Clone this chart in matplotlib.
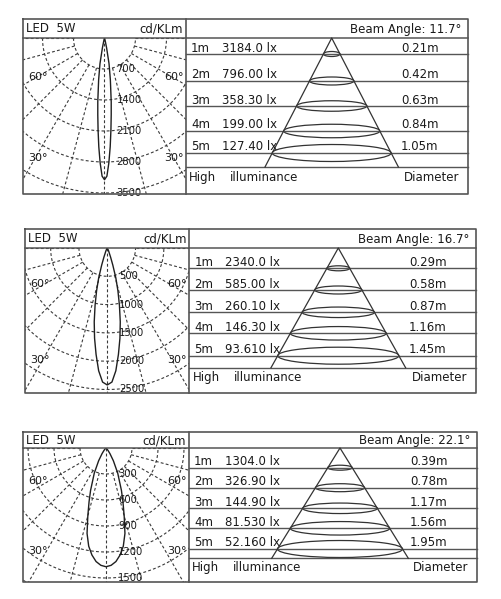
import numpy as np
import matplotlib
matplotlib.use("Agg")
import matplotlib.pyplot as plt
from matplotlib.patches import Ellipse

W, H = 502, 599

# ---------------- data ----------------
distances = [1, 2, 3, 4, 5]
beam_angles = [11.7, 16.7, 22.1]
lux_p1 = [3184.0, 796.00, 358.30, 199.00, 127.40]
lux_p2 = [2340.0, 585.00, 260.10, 146.30, 93.610]
lux_p3 = [1304.0, 326.90, 144.90, 81.530, 52.160]
diam_p1 = [0.21, 0.42, 0.63, 0.84, 1.05]
diam_p2 = [0.29, 0.58, 0.87, 1.16, 1.45]
diam_p3 = [0.39, 0.78, 1.17, 1.56, 1.95]
ring_ticks_p1 = [700, 1400, 2100, 2800, 3500]
ring_ticks_p2 = [500, 1000, 1500, 2000, 2500]
ring_ticks_p3 = [300, 600, 900, 1200, 1500]
curve_angles_p1 = [0, 1, 2, 3, 4, 5, 6, 7, 8, 10, 12, 14, 16, 20]
curve_cd_p1 = [3200, 3120, 2820, 2460, 2080, 1740, 1450, 1150, 950, 590, 230, 70, 20, 0]
curve_angles_p2 = [0, 2, 4, 6, 8, 10, 12, 14, 16, 18, 20, 25, 30, 40]
curve_cd_p2 = [2420, 2370, 2175, 1890, 1610, 1325, 1035, 780, 550, 320, 175, 55, 18, 0]
curve_angles_p3 = [0, 2.5, 5, 7.5, 10, 12.5, 15, 17.5, 20, 25, 30, 35, 40, 50, 60]
curve_cd_p3 = [1370, 1355, 1315, 1245, 1150, 1010, 810, 650, 520, 320, 170, 80, 35, 6, 0]
lamp_label = "LED  5W"
unit_label = "cd/KLm"

# ---------------- layout (pixels) ----------------
panels = [
    dict(x0=23, xd=186, x1=468, top=19, hdr=38, bot=194,
         rows=[54, 81, 106, 131, 153, 167], tcx=331.7, thw=66.7,
         ppu=31 / 700, lux=lux_p1, diam=diam_p1, rings=ring_ticks_p1,
         ang=curve_angles_p1, cd=curve_cd_p1, beam=beam_angles[0]),
    dict(x0=25, xd=189.5, x1=476, top=229, hdr=248, bot=393,
         rows=[268.3, 290, 312.3, 333.3, 355.7, 367.7], tcx=338.3, thw=67.3,
         ppu=28.3 / 500, lux=lux_p2, diam=diam_p2, rings=ring_ticks_p2,
         ang=curve_angles_p2, cd=curve_cd_p2, beam=beam_angles[1]),
    dict(x0=23, xd=189, x1=477, top=432, hdr=448, bot=582,
         rows=[467.7, 487.7, 508.3, 528.3, 549, 558.3], tcx=340, thw=68.3,
         ppu=26 / 300, lux=lux_p3, diam=diam_p3, rings=ring_ticks_p3,
         ang=curve_angles_p3, cd=curve_cd_p3, beam=beam_angles[2]),
]
ell_heights = [5, 8, 10.5, 13.5, 17]

TXT = "#1a1a1a"
LN = "#3a3a3a"
FONT = "DejaVu Sans"

fig = plt.figure(figsize=(W / 100, H / 100), dpi=100)
fig.patch.set_facecolor("white")


def fmt_lux(v):
    return np.format_float_positional(v, precision=5, unique=False,
                                      fractional=False, trim="k") + " lx"


for p in panels:
    # ---------- polar diagram (cartesian axes in cd units) ----------
    wpx = p["xd"] - p["x0"]
    hpx = p["bot"] - p["hdr"]
    pax = fig.add_axes([p["x0"] / W, 1 - p["bot"] / H, wpx / W, hpx / H])
    s = p["ppu"]
    pax.set_xlim(-wpx / 2 / s, wpx / 2 / s)
    pax.set_ylim(-hpx / s, 0)
    pax.axis("off")
    dash = (0, (2.6, 2.0))
    step = p["rings"][0]
    t = np.linspace(-np.pi / 2, np.pi / 2, 400)
    for k in range(1, 7):
        r = step * k
        pax.plot(r * np.sin(t), -r * np.cos(t), color=LN, lw=0.8, ls=dash)
    rmax = step * 8
    for a in range(-90, 91, 15):
        ar = np.radians(a)
        r0 = 0 if a == 0 else step
        pax.plot([r0 * np.sin(ar), rmax * np.sin(ar)],
                 [-r0 * np.cos(ar), -rmax * np.cos(ar)],
                 color=LN, lw=0.8, ls=dash)
    ang = np.radians(np.array(p["ang"], dtype=float))
    cd = np.array(p["cd"], dtype=float)
    full_a = np.concatenate([-ang[::-1], ang[1:]])
    full_r = np.concatenate([cd[::-1], cd[1:]])
    pax.plot(full_r * np.sin(full_a), -full_r * np.cos(full_a),
             color="#1f1f1f", lw=1.0, zorder=5)
    for v in p["rings"]:
        pax.text(12 / s, -v, str(v), fontsize=7.2, color=TXT, family=FONT,
                 ha="left", va="center", zorder=6)
    for fy, lab in [(0.25, "60°"), (0.77, "30°")]:
        pax.text(0.03, 1 - fy, lab, transform=pax.transAxes, fontsize=8,
                 color=TXT, family=FONT, ha="left", va="center")
        pax.text(0.985, 1 - fy, lab, transform=pax.transAxes, fontsize=8,
                 color=TXT, family=FONT, ha="right", va="center")

ov = fig.add_axes([0, 0, 1, 1])
ov.set_xlim(0, W)
ov.set_ylim(H, 0)
ov.axis("off")

for p in panels:
    x0, xd, x1, top, hdr, bot = p["x0"], p["xd"], p["x1"], p["top"], p["hdr"], p["bot"]
    rows = p["rows"]
    # frame
    ov.plot([x0, x1, x1, x0, x0], [top, top, bot, bot, top], color="#555555", lw=1.2)
    ov.plot([xd, xd], [top, bot], color="#555555", lw=1.2)
    ov.plot([x0, x1], [hdr, hdr], color="#555555", lw=1.1)
    for y in rows:
        ov.plot([xd, x1], [y, y], color="#555555", lw=1.0)
    # header text
    hy = (top + hdr) / 2 + 0.5
    ov.text(x0 + 3, hy, lamp_label, fontsize=8.5, color=TXT, family=FONT,
            ha="left", va="center")
    ov.text(xd - 3, hy, unit_label, fontsize=8.5, color=TXT, family=FONT,
            ha="right", va="center")
    ov.text(x1 - 7, hy, f"Beam Angle: {p['beam']}°", fontsize=8.5, color=TXT,
            family=FONT, ha="right", va="center")
    # triangle
    base = rows[5]
    ov.plot([p["tcx"] - p["thw"], p["tcx"], p["tcx"] + p["thw"]],
            [base, hdr, base], color="#333333", lw=0.9)
    for i, d in enumerate(distances):
        y = rows[i]
        wd = 2 * p["thw"] * (y - hdr) / (base - hdr)
        ov.add_patch(Ellipse((p["tcx"], y), wd, ell_heights[i], fill=False,
                             ec="#333333", lw=0.9))
        ov.text(xd + 5, y - 2.5, f"{d}m", fontsize=8.5, color=TXT, family=FONT,
                ha="left", va="baseline")
        ov.text(xd + 36, y - 2.5, fmt_lux(p["lux"][i]), fontsize=8.5, color=TXT,
                family=FONT, ha="left", va="baseline")
        ov.text(x1 - 67, y - 2.5, f"{p['diam'][i]:.2f}m", fontsize=8.5, color=TXT,
                family=FONT, ha="left", va="baseline")
    fy = (base + bot) / 2 - 3
    ov.text(xd + 3, fy, "High", fontsize=8.5, color=TXT, family=FONT,
            ha="left", va="center")
    ov.text(xd + 44, fy, "illuminance", fontsize=8.5, color=TXT, family=FONT,
            ha="left", va="center")
    ov.text(x1 - 9, fy, "Diameter", fontsize=8.5, color=TXT, family=FONT,
            ha="right", va="center")

fig.savefig("out.png", dpi=100, facecolor="white")
